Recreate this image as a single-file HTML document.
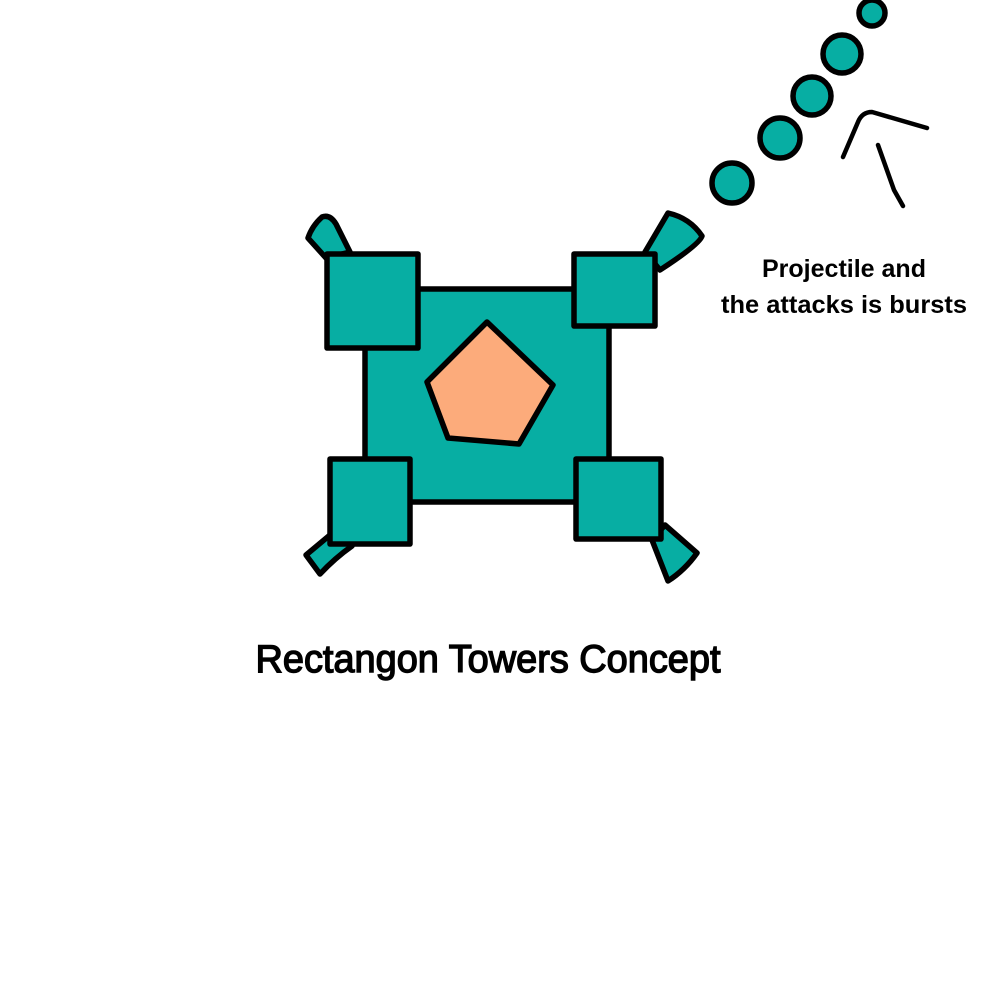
<!DOCTYPE html>
<html><head><style>html,body{margin:0;padding:0;background:#fff}svg{display:block}</style></head>
<body>
<svg width="1000" height="1000" viewBox="0 0 1000 1000" xmlns="http://www.w3.org/2000/svg">
<rect width="1000" height="1000" fill="#fff"/>
<g fill="#07aea3" stroke="#000" stroke-width="5.5" stroke-linejoin="round" stroke-linecap="round">
  <path d="M326,258 L308,238 Q312,226 322,217 Q330,214 336,224 L350,252 Z"/>
  <path d="M352,546 L330,535 L306,555 L320,574 Q335,558 352,546 Z"/>
  <path d="M645,252 L668,213 Q690,218 702,236 Q700,244 660,270 Z"/>
  <path d="M652,540 L668,581 Q685,570 697,553 L665,525 Z"/>
  <rect x="365" y="289" width="244" height="213"/>
  <rect x="327" y="254" width="91" height="94"/>
  <rect x="574" y="254" width="81" height="72"/>
  <rect x="330" y="459" width="80" height="85"/>
  <rect x="576" y="459" width="85" height="80"/>
  <circle cx="732" cy="183" r="20"/>
  <circle cx="780" cy="138" r="20"/>
  <circle cx="812" cy="96" r="19"/>
  <circle cx="842" cy="54" r="19"/>
  <circle cx="872" cy="13" r="13"/>
</g>
<polygon points="487,322 553,385 519,444 448,438 427,382" fill="#fcab7b" stroke="#000" stroke-width="5.5" stroke-linejoin="round"/>
<g fill="none" stroke="#000" stroke-width="4.5" stroke-linecap="round" stroke-linejoin="round">
  <path d="M843,157 L858,122 Q862,112 872,112 L927,128"/>
  <path d="M878,145 L894,190 L903,206"/>
</g>
<g font-family="Liberation Sans, Arial, sans-serif" font-weight="bold" fill="#000" text-anchor="middle">
  <text x="844" y="277" font-size="25" textLength="164" lengthAdjust="spacingAndGlyphs">Projectile and</text>
  <text x="844" y="313" font-size="25" textLength="246" lengthAdjust="spacingAndGlyphs">the attacks is bursts</text>
  <text x="488" y="672" font-size="39" font-weight="normal" stroke="#000" stroke-width="1.4" textLength="465" lengthAdjust="spacingAndGlyphs">Rectangon Towers Concept</text>
</g>
</svg>
</body></html>
